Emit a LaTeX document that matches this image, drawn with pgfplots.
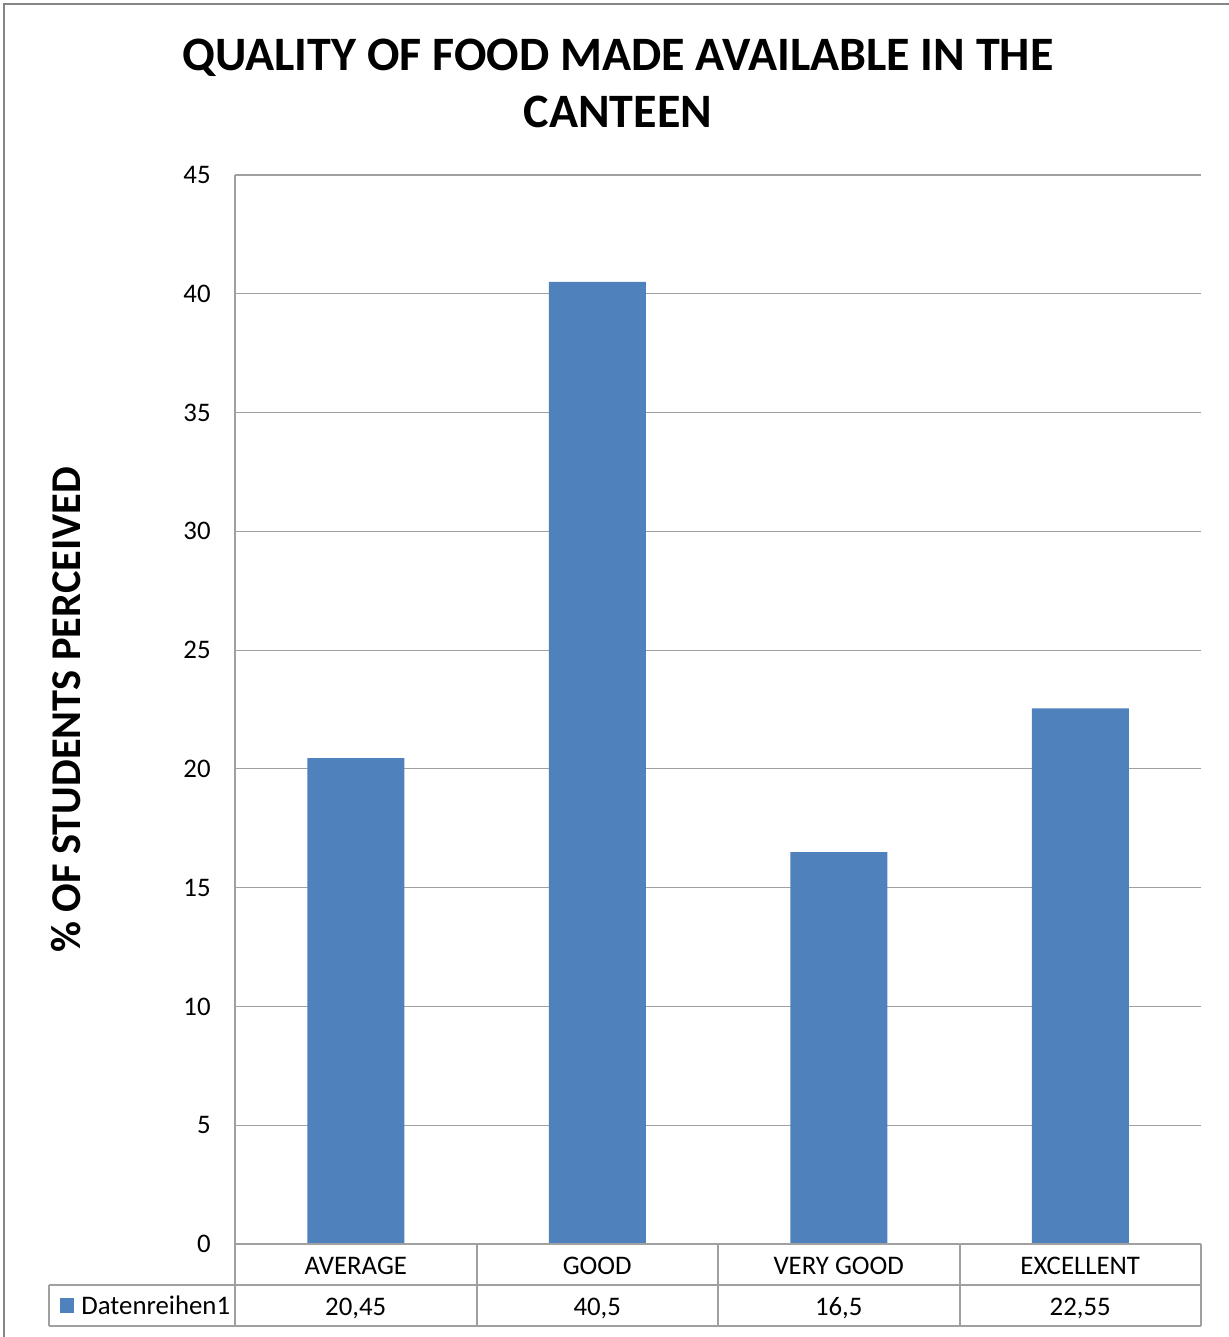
\documentclass[border=0pt]{standalone}
\usepackage{fontspec}
\setmainfont{Carlito}
\usepackage{pgfplots}
\pgfplotsset{compat=1.18}
\definecolor{barblue}{HTML}{4F81BD}
\definecolor{gridgray}{HTML}{A0A0A0}
\definecolor{framegray}{HTML}{858585}
\begin{document}
\begin{tikzpicture}[x=0.5pt,y=0.5pt]
\useasboundingbox (0,0) rectangle (1229,1337);
% outer frame (left and top)
\draw[framegray, line width=1.2pt] (4,0) -- (4,1333) -- (1229,1333);
% title
\node[font=\fontsize{24}{28.5}\selectfont\bfseries, align=center] at (618,1254) {QUALITY OF FOOD MADE AVAILABLE IN THE\\CANTEEN};
% y label
\node[font=\fontsize{21.2}{24}\selectfont\bfseries, rotate=90] at (66,627) {\% OF STUDENTS PERCEIVED};
\begin{axis}[
  at={(117.5pt,46.5pt)}, anchor=south west,
  scale only axis, width=483pt, height=534.5pt,
  xmin=-0.5, xmax=3.5, ymin=0, ymax=45,
  ytick={0,5,...,45},
  xtick={0,1,2,3},
  xticklabels={AVERAGE,GOOD,VERY GOOD,EXCELLENT},
  major tick length=0pt,
  ymajorgrids, grid style={gridgray, line width=0.6pt},
  axis x line*=bottom, axis y line*=left,
  axis line style={draw=gridgray, line width=0.8pt, -},
  /pgf/number format/assume math mode=true,
  tick label style={font=\fontsize{13.4}{14}\selectfont},
  yticklabel style={anchor=east, inner sep=0pt, xshift=-12pt},
  xticklabel style={anchor=base, inner sep=0pt, yshift=-15pt},
  ybar, bar width=48.5pt,
  clip=false,
]
\addplot[fill=barblue, draw=none] coordinates {(0,20.45) (1,40.5) (2,16.5) (3,22.55)};
\foreach \v/\i in {20{,}45/0, 40{,}5/1, 16{,}5/2, 22{,}55/3} {
  \edef\tmp{\noexpand\node[anchor=base, inner sep=0pt, font=\noexpand\fontsize{13.4}{14}\noexpand\selectfont] at (axis cs:\i,0) [yshift=-35.5pt] {\v};}
  \tmp
}
\end{axis}
% data table lines
\draw[gridgray, line width=0.8pt] (235,93) -- (1201,93);
\draw[gridgray, line width=0.8pt] (49,52) -- (1201,52);
\draw[gridgray, line width=0.8pt] (49,11) -- (1201,11);
\draw[gridgray, line width=0.8pt] (49,52) -- (49,11);
\foreach \xx in {235,477,718,960,1201} {
  \draw[gridgray, line width=0.8pt] (\xx,93) -- (\xx,11);
}
% legend key
\fill[barblue] (60,24) rectangle (74,39);
\node[anchor=base west, inner sep=0pt, font=\fontsize{13.4}{14}\selectfont] at (81,22) {Datenreihen1};
\end{tikzpicture}
\end{document}
